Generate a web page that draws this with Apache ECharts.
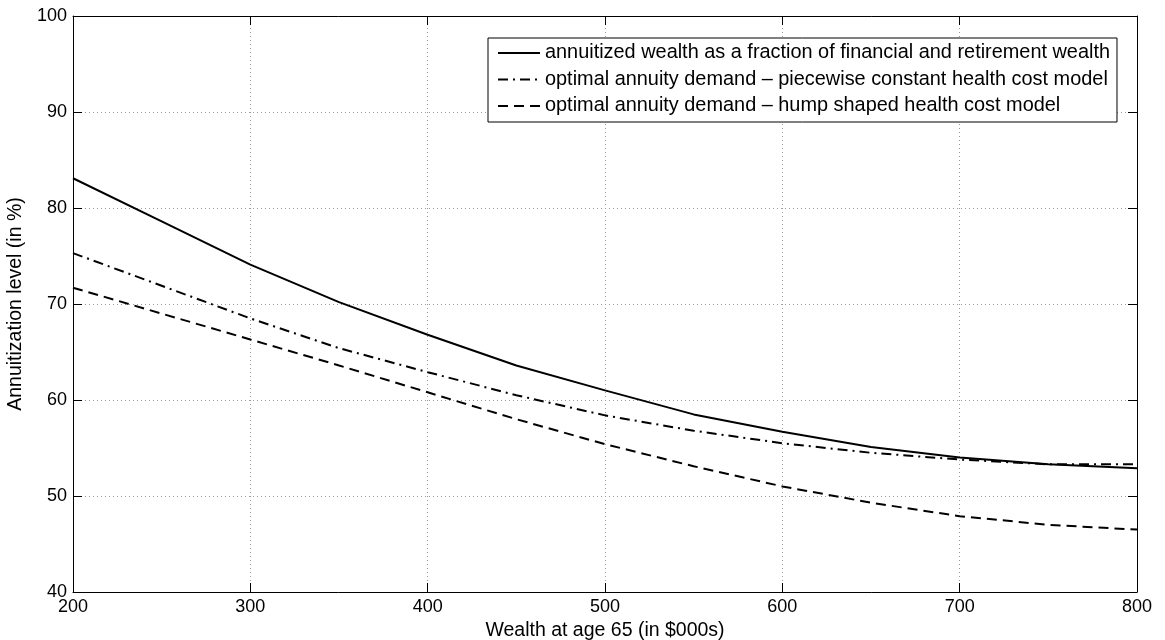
<!DOCTYPE html>
<html>
<head>
<meta charset="utf-8">
<script src="https://cdn.jsdelivr.net/npm/echarts@6/dist/echarts.min.js"></script>
<style>
html,body{margin:0;padding:0;background:#fff;}
#chart{width:1165px;height:640px;}
</style>
</head>
<body>
<div id="chart"></div>
<script>
const wealth = [200, 250, 300, 350, 400, 450, 500, 550, 600, 650, 700, 750, 800];
const annuitizedWealth = [83.1, 78.6, 74.1, 70.2, 66.8, 63.6, 61.0, 58.5, 56.7, 55.1, 54.0, 53.3, 52.9];
const piecewiseDemand = [75.3, 71.9, 68.5, 65.4, 62.9, 60.5, 58.4, 56.8, 55.5, 54.5, 53.8, 53.3, 53.3];
const humpDemand = [71.7, 69.0, 66.3, 63.6, 60.8, 58.0, 55.4, 53.1, 51.0, 49.3, 47.9, 47.0, 46.5];
const seriesNames = [
  'annuitized wealth as a fraction of financial and retirement wealth',
  'optimal annuity demand \u2013 piecewise constant health cost model',
  'optimal annuity demand \u2013 hump shaped health cost model'
];
const xTitle = 'Wealth at age 65 (in $000s)';
const yTitle = 'Annuitization level (in %)';

const pairs = ys => wealth.map((x, i) => [x, ys[i]]);
const font = 'Liberation Sans, Arial, Helvetica, sans-serif';
const chart = echarts.init(document.getElementById('chart'), null, {renderer: 'canvas'});

const gridLine = {show: true, lineStyle: {color: '#9a9a9a', type: [1, 3], width: 1}};
const tickIn = {show: true, inside: true, length: 9, lineStyle: {color: '#000', width: 1}};

const mk = (name, data, type) => ({
  name, type: 'line', data: pairs(data), symbol: 'none', smooth: false,
  lineStyle: {color: '#000', width: 2, type: type},
  itemStyle: {color: '#000'},
  emphasis: {disabled: true}, animation: false
});

chart.setOption({
  animation: false,
  backgroundColor: '#fff',
  textStyle: {fontFamily: font},
  grid: {left: 73, right: 28, top: 16, bottom: 48, containLabel: false, outerBoundsMode: 'none'},
  legend: {
    orient: 'vertical', left: 488, top: 38,
    backgroundColor: '#fff', borderColor: '#000', borderWidth: 1, borderRadius: 0,
    padding: [5, 7, 6, 9], itemGap: 6.5, itemWidth: 42, itemHeight: 14,
    itemStyle: {opacity: 0},
    textStyle: {fontSize: 19.9, lineHeight: 20, color: '#000', fontFamily: font},
    data: seriesNames.map(n => ({name: n}))
  },
  xAxis: [
    {type: 'value', min: 200, max: 800, interval: 100, position: 'bottom',
     name: xTitle, nameLocation: 'middle', nameGap: 21,
     nameTextStyle: {fontSize: 19.5, color: '#000', fontFamily: font},
     axisLine: {show: true, lineStyle: {color: '#000', width: 1}},
     axisTick: tickIn, splitLine: gridLine,
     axisLabel: {fontSize: 18, color: '#000', margin: 6, fontFamily: font}},
    {type: 'value', min: 200, max: 800, interval: 100, position: 'top',
     axisLine: {show: true, lineStyle: {color: '#000', width: 1}},
     axisTick: tickIn, splitLine: {show: false}, axisLabel: {show: false}}
  ],
  yAxis: [
    {type: 'value', min: 40, max: 100, interval: 10, position: 'left',
     name: yTitle, nameLocation: 'middle', nameGap: 42, nameRotate: 90,
     nameTextStyle: {fontSize: 19.5, color: '#000', fontFamily: font},
     axisLine: {show: true, lineStyle: {color: '#000', width: 1}},
     axisTick: tickIn, splitLine: gridLine,
     axisLabel: {fontSize: 18, color: '#000', margin: 6, fontFamily: font}},
    {type: 'value', min: 40, max: 100, interval: 10, position: 'right',
     axisLine: {show: true, lineStyle: {color: '#000', width: 1}},
     axisTick: tickIn, splitLine: {show: false}, axisLabel: {show: false}}
  ],
  series: [
    mk(seriesNames[0], annuitizedWealth, 'solid'),
    mk(seriesNames[1], piecewiseDemand, [10, 5, 2, 5]),
    mk(seriesNames[2], humpDemand, [10, 6])
  ]
});
</script>
</body>
</html>
